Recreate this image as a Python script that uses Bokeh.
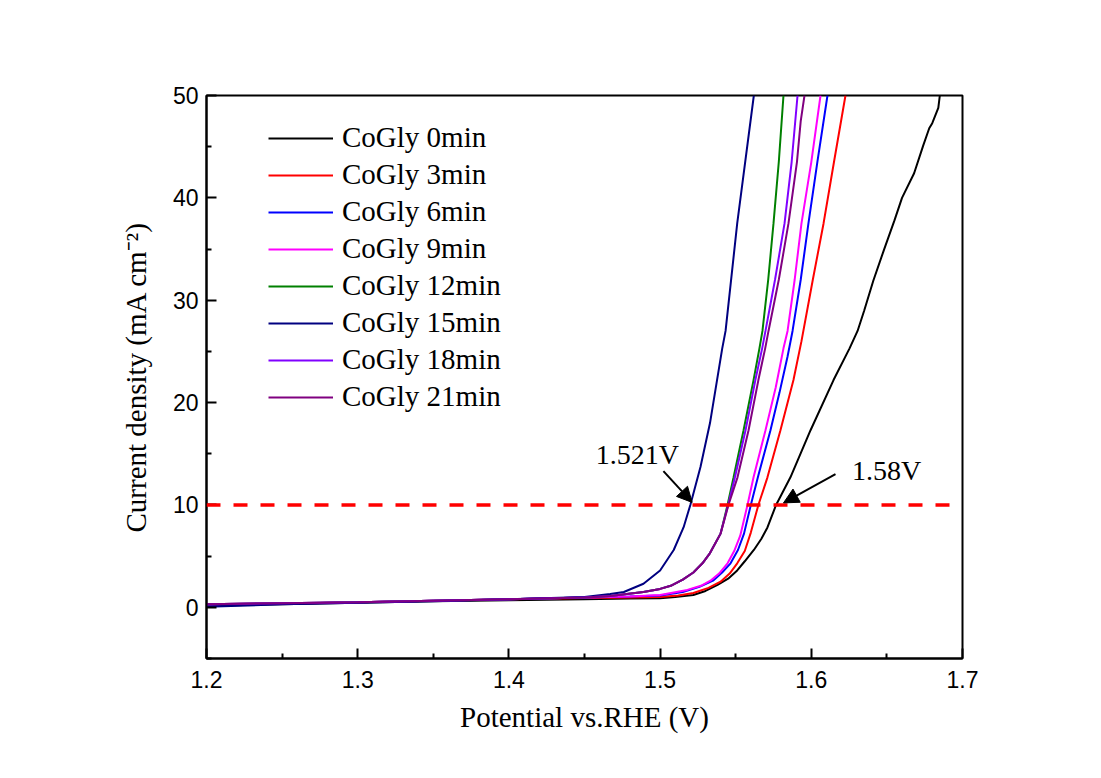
from bokeh.plotting import figure
from bokeh.models import (Range1d, FixedTicker, Legend, LegendItem, Span, Label,
                          Arrow, NormalHead)
from bokeh.embed import file_html
from bokeh.resources import INLINE

# ---------------- data ----------------
x0 = [1.20, 1.25, 1.30, 1.35, 1.40, 1.45, 1.48, 1.50, 1.51, 1.522, 1.53, 1.538, 1.545, 1.551,
      1.556, 1.562, 1.567, 1.571, 1.5767, 1.5862, 1.5995, 1.6147, 1.6253, 1.6306, 1.635, 1.641,
      1.648, 1.655, 1.660, 1.668, 1.674, 1.678, 1.680, 1.684, 1.685]
y0 = [0.15, 0.3, 0.45, 0.6, 0.7, 0.8, 0.85, 0.88, 1.0, 1.2, 1.6, 2.2, 2.8, 3.6,
      4.5, 5.6, 6.7, 7.8, 10.0, 12.7, 17.3, 22.2, 25.3, 27.0, 29.0, 31.9,
      34.9, 37.8, 40.0, 42.4, 45.1, 46.8, 47.3, 48.8, 50.0]

x3 = [1.20, 1.25, 1.30, 1.35, 1.40, 1.45, 1.48, 1.50, 1.512, 1.522, 1.532, 1.540, 1.546, 1.551,
      1.556, 1.560, 1.565, 1.571, 1.5796, 1.5882, 1.5935, 1.601, 1.6081, 1.615, 1.6226]
y3 = [0.25, 0.35, 0.5, 0.65, 0.8, 0.9, 0.95, 1.0, 1.15, 1.4, 1.9, 2.5, 3.3, 4.3,
      5.5, 7.3, 10.0, 12.7, 17.3, 22.2, 26.0, 32.0, 37.5, 43.5, 50.0]

x6 = [1.20, 1.25, 1.30, 1.35, 1.40, 1.45, 1.48, 1.50, 1.515, 1.526, 1.535, 1.541, 1.5466,
      1.5515, 1.5555, 1.560, 1.565, 1.573, 1.579, 1.5843, 1.5876, 1.593, 1.5981, 1.604, 1.6107]
y6 = [0.25, 0.35, 0.5, 0.65, 0.8, 0.95, 1.05, 1.15, 1.5, 2.0, 2.6, 3.4, 4.3,
      5.6, 7.2, 10.0, 12.9, 17.3, 21.0, 24.5, 27.0, 32.0, 37.5, 43.5, 50.0]

x9 = [1.20, 1.25, 1.30, 1.35, 1.40, 1.45, 1.48, 1.50, 1.518, 1.527, 1.5333, 1.539, 1.5446,
      1.549, 1.553, 1.5578, 1.5618, 1.5697, 1.5765, 1.5816, 1.5843, 1.589, 1.5935, 1.600, 1.6061]
y9 = [0.3, 0.4, 0.5, 0.65, 0.8, 0.95, 1.05, 1.2, 1.7, 2.1, 2.6, 3.3, 4.3,
      5.5, 7.0, 10.0, 12.7, 17.3, 21.5, 25.3, 27.0, 32.0, 37.5, 43.5, 50.0]

x12 = [1.20, 1.25, 1.30, 1.35, 1.40, 1.45, 1.467, 1.489, 1.50, 1.507, 1.515, 1.522, 1.528,
       1.533, 1.540, 1.5446, 1.5486, 1.5552, 1.5618, 1.5657, 1.5677, 1.5715, 1.575, 1.5785,
       1.5816]
y12 = [0.3, 0.4, 0.5, 0.65, 0.8, 0.95, 1.1, 1.5, 1.8, 2.1, 2.7, 3.4, 4.3,
       5.3, 7.2, 10.0, 12.7, 17.3, 22.2, 25.3, 27.0, 32.0, 37.5, 43.5, 50.0]

x15 = [1.20, 1.25, 1.30, 1.35, 1.40, 1.45, 1.467, 1.476, 1.489, 1.500, 1.509, 1.5155, 1.520,
       1.5267, 1.533, 1.5411, 1.5433, 1.551, 1.562]
y15 = [0.05, 0.3, 0.45, 0.6, 0.8, 1.0, 1.3, 1.5, 2.3, 3.6, 5.6, 7.8, 10.0,
       13.7, 18.0, 25.3, 27.0, 37.5, 50.0]

x18 = [1.20, 1.25, 1.30, 1.35, 1.40, 1.45, 1.467, 1.489, 1.50, 1.507, 1.515, 1.522, 1.528,
       1.533, 1.540, 1.545, 1.5495, 1.5565, 1.563, 1.5675, 1.5697, 1.576, 1.5823, 1.587, 1.5909]
y18 = [0.3, 0.4, 0.5, 0.65, 0.8, 0.95, 1.1, 1.5, 1.8, 2.1, 2.7, 3.4, 4.3,
       5.3, 7.2, 10.0, 12.7, 17.3, 22.2, 25.3, 27.0, 32.0, 37.5, 43.5, 50.0]

x21 = [1.20, 1.25, 1.30, 1.35, 1.40, 1.45, 1.467, 1.489, 1.50, 1.507, 1.515, 1.522, 1.528,
       1.533, 1.540, 1.5452, 1.5512, 1.5585, 1.565, 1.5695, 1.5717, 1.5785, 1.5849, 1.5905,
       1.593, 1.5955]
y21 = [0.3, 0.4, 0.5, 0.65, 0.8, 0.95, 1.1, 1.5, 1.8, 2.1, 2.7, 3.4, 4.3,
       5.3, 7.2, 10.0, 12.7, 17.3, 22.2, 25.3, 27.0, 32.0, 37.5, 43.5,
       47.5, 50.0]

series_names = ["CoGly 0min", "CoGly 3min", "CoGly 6min", "CoGly 9min",
                "CoGly 12min", "CoGly 15min", "CoGly 18min", "CoGly 21min"]
series_x = [x0, x3, x6, x9, x12, x15, x18, x21]
series_y = [y0, y3, y6, y9, y12, y15, y18, y21]
series_colors = ["#000000", "#FF0000", "#0000FF", "#FF00FF",
                 "#008000", "#000080", "#8000FF", "#800080"]

x_ticks = [1.2, 1.3, 1.4, 1.5, 1.6, 1.7]
x_minor = [1.25, 1.35, 1.45, 1.55, 1.65]
y_ticks = [0, 10, 20, 30, 40, 50]
y_minor = [-5, 5, 15, 25, 35, 45]

ref_level = 10
# annotations: text, text position, arrow tail and head
ann_text = ["1.521V", "1.58V"]
ann_tx = [1.4575, 1.627]
ann_ty = [14.9, 13.4]
ann_tail_x = [1.5022, 1.616]
ann_tail_y = [13.3, 13.0]
ann_head_x = [1.5212, 1.5816]
ann_head_y = [10.25, 10.2]

# ---------------- figure ----------------
SERIF = "Liberation Serif"
SANS = "Liberation Sans"

p = figure(width=1085, height=762, output_backend="svg", toolbar_location=None,
           x_range=Range1d(1.2, 1.7), y_range=Range1d(-5, 50),
           min_border_left=206, min_border_right=123, min_border_top=95,
           min_border_bottom=104)
p.background_fill_color = "white"
p.border_fill_color = "white"
p.grid.visible = False
p.outline_line_color = "black"
p.outline_line_width = 2

for ax, ticks, minor in ((p.xaxis[0], x_ticks, x_minor), (p.yaxis[0], y_ticks, y_minor)):
    ax.ticker = FixedTicker(ticks=ticks, minor_ticks=minor)
    ax.axis_line_width = 2
    ax.major_tick_in = 10
    ax.major_tick_out = 0
    ax.minor_tick_in = 5
    ax.minor_tick_out = 0
    ax.major_tick_line_width = 2
    ax.minor_tick_line_width = 2
    ax.major_label_text_font = SANS
    ax.major_label_text_font_size = "23px"
    ax.major_label_text_color = "black"
    ax.axis_label_text_font = SERIF
    ax.axis_label_text_font_size = "29px"
    ax.axis_label_text_font_style = "normal"
    ax.axis_label_text_color = "black"

p.xaxis[0].axis_label = "Potential vs.RHE (V)"
p.xaxis[0].major_label_standoff = 12
p.xaxis[0].axis_label_standoff = 10
p.yaxis[0].axis_label = "Current density (mA cm\u207B\u00B2)"
p.yaxis[0].major_label_standoff = 8
p.yaxis[0].axis_label_standoff = 18

items = []
for name, xs, ys, c in zip(series_names, series_x, series_y, series_colors):
    r = p.line(xs, ys, line_color=c, line_width=2)
    items.append(LegendItem(label=name, renderers=[r]))

p.add_layout(Span(location=ref_level, dimension="width", line_color="#FF0000",
                  line_width=3.5, line_dash="14 13"))

for t, tx, ty, x1, y1, x2, y2 in zip(ann_text, ann_tx, ann_ty, ann_tail_x, ann_tail_y,
                                     ann_head_x, ann_head_y):
    p.add_layout(Label(x=tx, y=ty, text=t, text_font=SERIF, text_font_size="28px",
                       text_color="black", text_align="left", text_baseline="alphabetic"))
    p.add_layout(Arrow(x_start=x1, y_start=y1, x_end=x2, y_end=y2, line_width=2,
                       line_color="black",
                       end=NormalHead(size=15, fill_color="black", line_color="black")))

legend = Legend(items=items, location=(62, 245), padding=0, margin=0, spacing=4,
                glyph_width=65, glyph_height=32, label_height=32, label_standoff=9,
                label_text_font=SERIF, label_text_font_size="29px",
                label_text_color="black", border_line_color=None,
                background_fill_alpha=0)
p.add_layout(legend)

open("out.html", "w").write(file_html(p, INLINE))
